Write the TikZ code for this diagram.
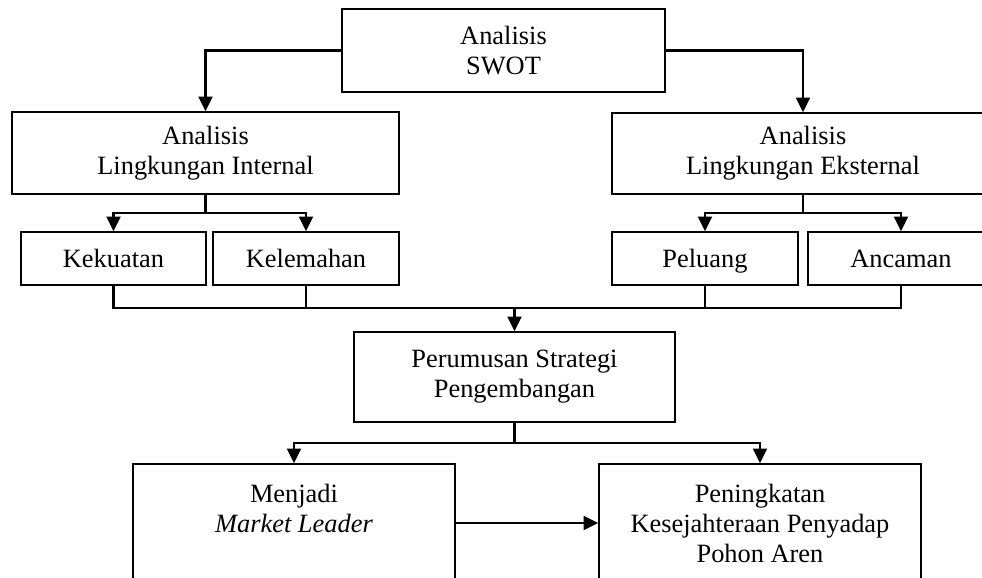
\documentclass[tikz,border=0pt]{standalone}
\usepackage{fontspec}
\setmainfont{Liberation Serif}
\usetikzlibrary{arrows.meta}

\begin{document}
\begin{tikzpicture}[x=0.75pt, y=-0.75pt,
    >={Triangle[length=11pt, width=10.5pt]},
    kotak/.style={draw, line width=1.2pt, align=center, inner sep=0pt,
        font=\fontsize{19.8}{22.5}\selectfont},
    kecil/.style={kotak, minimum height=39.75pt, text height=16pt, text depth=2.5pt},
    garis/.style={line width=1.8pt}]
    \clip (0,0) rectangle (982,578);

    \node[kotak, minimum width=242.25pt, minimum height=62.25pt] (swot) at (503.5, 50.5) {Analisis\\SWOT};
    \node[kotak, minimum width=290.25pt, minimum height=61.5pt] (internal) at (205.5, 153) {Analisis\\Lingkungan Internal};
    \node[kotak, minimum width=286.5pt, minimum height=60.75pt] (external) at (803, 153.5) {Analisis\\Lingkungan Eksternal};

    \node[kecil, minimum width=138.75pt] (kekuatan) at (113.5, 258.5) {Kekuatan};
    \node[kecil, minimum width=139.5pt] (kelemahan) at (306, 258.5) {Kelemahan};
    \node[kecil, minimum width=139.5pt] (peluang) at (705, 258.5) {Peluang};
    \node[kecil, minimum width=139.5pt] (ancaman) at (901, 258.5) {Ancaman};

    \node[kotak, minimum width=240.75pt, minimum height=67.5pt] (perumusan) at (514.5, 377) {Perumusan Strategi\\Pengembangan};

    \node[kotak, minimum width=241.5pt, minimum height=88.5pt] (menjadi) at (294, 523) {Menjadi\\\textit{Market Leader}\\\mbox{}};
    \node[kotak, minimum width=241.5pt, minimum height=88.5pt] (peningkatan) at (760, 523) {Peningkatan\\Kesejahteraan Penyadap\\Pohon Aren};

    \coordinate (cabangIn) at (205.5, 213);
    \coordinate (cabangEks) at (803, 213);
    \coordinate (gabung) at (514.5, 308);
    \coordinate (cabangStr) at (514.5, 443);

    \draw[garis, ->] (swot.west) -| (internal.north);
    \draw[garis, ->] (swot.east) -| (external.north);

    \draw[garis] (internal.south) -- (cabangIn);
    \draw[garis, ->] (cabangIn) -| (kekuatan.north);
    \draw[garis, ->] (cabangIn) -| (kelemahan.north);
    \draw[garis] (external.south) -- (cabangEks);
    \draw[garis, ->] (cabangEks) -| (peluang.north);
    \draw[garis, ->] (cabangEks) -| (ancaman.north);

    \draw[garis] (kekuatan.south) |- (gabung) -| (ancaman.south);
    \draw[garis] (kelemahan.south) -- (kelemahan.south |- gabung);
    \draw[garis] (peluang.south) -- (peluang.south |- gabung);
    \draw[garis, ->] (gabung) -- (perumusan.north);

    \draw[garis] (perumusan.south) -- (cabangStr);
    \draw[garis, ->] (cabangStr) -| (menjadi.north);
    \draw[garis, ->] (cabangStr) -| (peningkatan.north);
    \draw[garis, ->] (menjadi.east) -- (peningkatan.west);
\end{tikzpicture}
\end{document}
